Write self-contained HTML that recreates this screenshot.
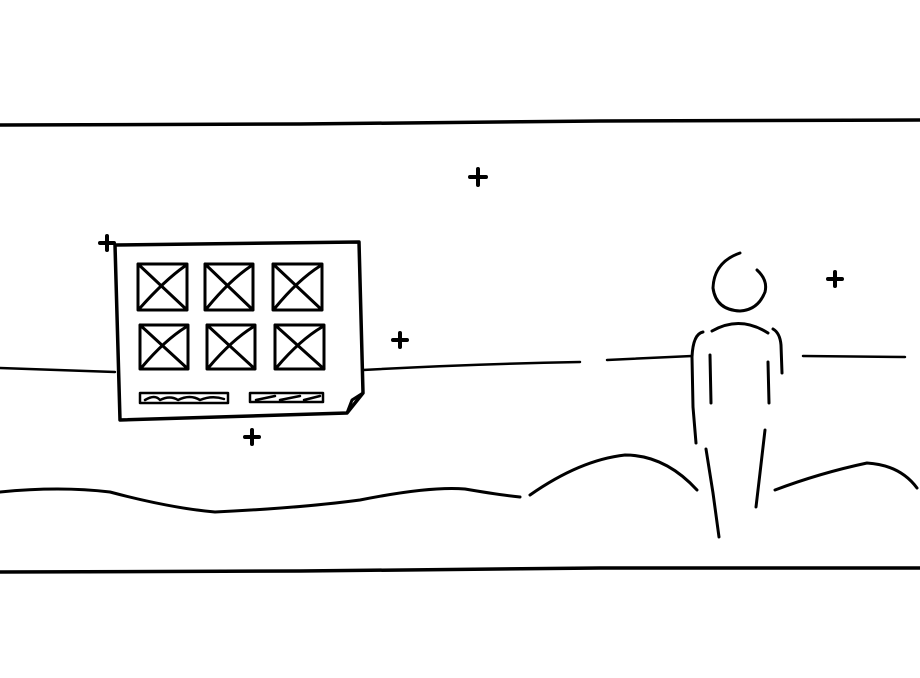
<!DOCTYPE html>
<html><head><meta charset="utf-8"><style>html,body{margin:0;padding:0;background:#fff}svg{display:block}</style></head>
<body>
<svg width="920" height="678" viewBox="0 0 920 678" fill="none" stroke="#000" stroke-linecap="round" stroke-linejoin="round">
<g stroke-width="3.5">
<path d="M0 125 L300 124 L600 121 L920 120"/>
<path d="M0 572 L300 571 L600 568 L920 568"/>
</g>
<g stroke-width="2.5">
<path d="M0 368 L115 372"/>
<path d="M363 370 Q470 364 580 362"/>
<path d="M607 360 L692 356"/>
<path d="M803 356 L905 357"/>
</g>
<g stroke-width="3">
<path d="M0 492 Q60 486 110 492 Q170 508 215 512 Q300 508 360 500 Q430 486 465 489 Q500 495 520 497"/>
<path d="M530 495 Q580 460 625 455 Q665 455 697 490"/>
<path d="M775 490 Q820 473 867 463 Q900 465 917 488"/>
</g>
<g stroke-width="4">
<path d="M470 177 H486 M478 169 V185"/>
<path d="M393 340 H407 M400 333 V347"/>
<path d="M245 437 H259 M252 430 V444"/>
<path d="M828 279 H842 M835 272 V286"/>
<path d="M100 243 H114 M107 236 V250"/>
</g>
<g stroke-width="3.5">
<path d="M115 245 L359 242 L363 393 L347 413 L120 420 Z" fill="#fff"/>
<path d="M347 413 L352 400 L363 393" stroke-width="3"/>
<g stroke-width="3">
<path d="M138 264 H187 V310 H138 Z M138 264 L187 310 M140 308 Q165 280 185 266"/>
<path d="M205 264 H253 V310 H205 Z M205 264 L253 310 M207 308 Q230 280 251 266"/>
<path d="M273 264 H322 V310 H273 Z M273 264 L322 310 M275 308 Q298 280 320 266"/>
<path d="M140 325 H188 V369 H140 Z M140 325 L188 369 M142 367 Q165 340 186 327"/>
<path d="M207 325 H255 V369 H207 Z M207 325 L255 369 M209 367 Q232 340 253 327"/>
<path d="M275 325 H324 V369 H275 Z M275 325 L324 369 M277 367 Q300 340 322 327"/>
</g>
<g stroke-width="2.5">
<path d="M140 393 H228 V403 H140 Z M145 400 Q155 394 160 400 Q170 395 178 400 Q190 394 200 400 Q212 395 224 399"/>
<path d="M250 393 H323 V402 H250 Z M256 400 L275 396 M280 400 L300 396 M304 400 L320 396"/>
</g>
</g>
<g stroke-width="3">
<path d="M757 270 Q768 280 765 292 Q758 310 740 311 Q716 310 713 288 Q714 262 740 253"/>
<path d="M712 331 Q740 315 768 333"/>
<path d="M703 332 Q693 334 692 357 L693 407 L696 443"/>
<path d="M710 355 L711 403"/>
<path d="M768 362 L769 403"/>
<path d="M773 329 Q780 333 781 345 L782 373"/>
<path d="M706 449 L713 493 L719 537"/>
<path d="M765 430 L760 473 L756 507"/>
</g>
</svg>
</body></html>
